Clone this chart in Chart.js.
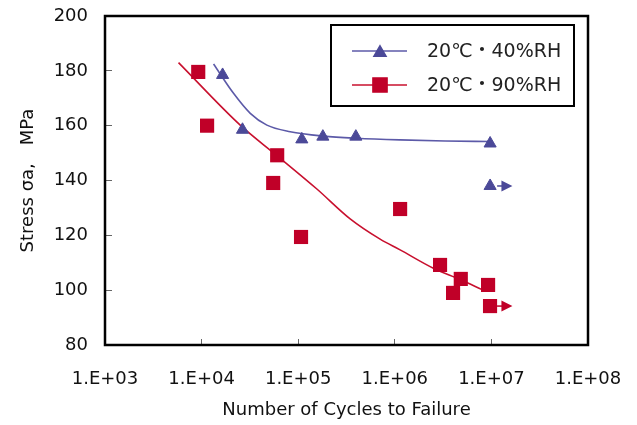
<!DOCTYPE html>
<html>
<head>
<meta charset="utf-8">
<script src="https://cdn.jsdelivr.net/npm/chart.js@4.4.0/dist/chart.umd.min.js"></script>
<style>
  html, body { margin: 0; padding: 0; background: #fff; }
  #wrap { width: 637px; height: 425px; }
</style>
</head>
<body>
<div id="wrap"><canvas id="snChart" width="637" height="425"></canvas></div>
<script>
// series names
const seriesNames = ['20℃・40%RH', '20℃・90%RH'];

// 40%RH measured points (triangles)
const triCycles = [16500, 26500, 109000, 180000, 395000, 9700000, 9700000];
const triStress = [178.5, 158.5, 155, 156, 156, 153.5, 138];

// 90%RH measured points (squares)
const sqCycles = [9230, 11400, 60600, 55100, 107000, 1135000, 2940000, 4820000, 4010000, 9240000, 9680000];
const sqStress = [179.6, 160, 149.2, 139.1, 119.4, 129.6, 109.2, 104.1, 99, 101.9, 94.2];

// fitted curves
const triFitCycles = [13300, 21400, 31900, 47400, 82600, 182600, 404600, 1135000, 3316000, 9680000];
const triFitStress = [182.5, 171.8, 164.5, 160.2, 157.8, 156.2, 155.4, 154.8, 154.4, 154.2];
const sqFitCycles = [5770, 25100, 60200, 156100, 345000, 704700, 1135000, 2509000, 4741000, 8006000];
const sqFitStress = [183, 160.2, 149.1, 136.9, 126, 118.6, 114.7, 108, 103.9, 100.2];

// run-outs (did not fail) -> arrows
const triRunoutCycles = [9700000];
const triRunoutStress = [138];
const sqRunoutCycles = [9680000];
const sqRunoutStress = [94.2];
const runoutArrowTip = 16500000;

// axes
const xTickValues = [1e3, 1e4, 1e5, 1e6, 1e7, 1e8];
const xTickLabels = ['1.E+03', '1.E+04', '1.E+05', '1.E+06', '1.E+07', '1.E+08'];
const yMin = 80, yMax = 200, yStep = 20;

const blueMark = '#4b4998';
const blueLine = '#5c5aa8';
const redMark = '#c00028';
const redLine = '#c8102e';

Chart.defaults.font.family = '"DejaVu Sans", "Noto Sans CJK KR", sans-serif';
Chart.defaults.font.size = 18;
Chart.defaults.color = '#111';

function pts(xs, ys) {
    return xs.map((x, i) => ({ x: x, y: ys[i] }));
}

// frame around plot + runout arrows
const framePlugin = {
    id: 'framePlugin',
    afterDatasetsDraw(chart) {
        const ctx = chart.ctx;
        const a = chart.chartArea;
        const xs = chart.scales.x, ys = chart.scales.y;
        ctx.save();

        function arrow(xv, yv, color) {
            const x0 = xs.getPixelForValue(xv) + 7;
            const x1 = xs.getPixelForValue(runoutArrowTip);
            const y = ys.getPixelForValue(yv);
            ctx.strokeStyle = color;
            ctx.fillStyle = color;
            ctx.lineWidth = 1.5;
            ctx.beginPath();
            ctx.moveTo(x0, y);
            ctx.lineTo(x1 - 9, y);
            ctx.stroke();
            ctx.beginPath();
            ctx.moveTo(x1, y);
            ctx.lineTo(x1 - 11, y - 5.5);
            ctx.lineTo(x1 - 11, y + 5.5);
            ctx.closePath();
            ctx.fill();
        }
        triRunoutCycles.forEach((c, i) => arrow(c, triRunoutStress[i], blueMark));
        sqRunoutCycles.forEach((c, i) => arrow(c, sqRunoutStress[i], redMark));

        ctx.strokeStyle = '#000';
        ctx.lineWidth = 2.5;
        ctx.strokeRect(a.left, a.top, a.right - a.left, a.bottom - a.top);
        ctx.restore();
    }
};

// legend box inside the plot
const legendBox = {
    id: 'legendBox',
    afterDraw(chart) {
        const ctx = chart.ctx;
        ctx.save();
        ctx.fillStyle = '#fff';
        ctx.fillRect(331, 25, 243, 81);
        ctx.strokeStyle = '#000';
        ctx.lineWidth = 2;
        ctx.strokeRect(331, 25, 243, 81);

        const rows = [
            { text: seriesNames[0], line: blueLine, mark: blueMark, style: 'triangle', r: 7, y: 51, dy: 1.75 },
            { text: seriesNames[1], line: redLine, mark: redMark, style: 'rect', r: 10, y: 85, dy: 0 }
        ];
        rows.forEach(row => {
            ctx.strokeStyle = row.line;
            ctx.lineWidth = 1.5;
            ctx.beginPath();
            ctx.moveTo(352, row.y);
            ctx.lineTo(407, row.y);
            ctx.stroke();
            ctx.fillStyle = row.mark;
            ctx.strokeStyle = row.mark;
            Chart.helpers.drawPoint(ctx, { pointStyle: row.style, radius: row.r, rotation: 0, borderWidth: 1 }, 380, row.y + row.dy);
            ctx.fillStyle = '#222';
            ctx.font = '19px "DejaVu Sans", "Noto Sans CJK KR", sans-serif';
            ctx.textBaseline = 'middle';
            ctx.textAlign = 'left';
            ctx.fillText(row.text, 427, row.y + 1);
        });
        ctx.restore();
    }
};

new Chart(document.getElementById('snChart').getContext('2d'), {
    type: 'scatter',
    data: {
        datasets: [
            {
                label: seriesNames[0],
                data: pts(triCycles, triStress),
                pointStyle: 'triangle',
                pointRadius: 7,
                pointBackgroundColor: blueMark,
                pointBorderColor: blueMark,
                pointBorderWidth: 1,
                showLine: false
            },
            {
                label: seriesNames[1],
                data: pts(sqCycles, sqStress),
                pointStyle: 'rect',
                pointRadius: 10,
                pointBackgroundColor: redMark,
                pointBorderColor: redMark,
                pointBorderWidth: 0,
                showLine: false
            },
            {
                label: 'fit 40',
                data: pts(triFitCycles, triFitStress),
                showLine: true,
                borderColor: blueLine,
                borderWidth: 1.6,
                pointRadius: 0,
                cubicInterpolationMode: 'monotone',
                fill: false
            },
            {
                label: 'fit 90',
                data: pts(sqFitCycles, sqFitStress),
                showLine: true,
                borderColor: redLine,
                borderWidth: 1.6,
                pointRadius: 0,
                cubicInterpolationMode: 'monotone',
                fill: false
            }
        ]
    },
    options: {
        responsive: false,
        animation: false,
        events: [],
        layout: { padding: { top: 16, right: 49, left: 0, bottom: 0 } },
        plugins: {
            legend: { display: false },
            tooltip: { enabled: false }
        },
        scales: {
            x: {
                type: 'logarithmic',
                min: xTickValues[0],
                max: xTickValues[xTickValues.length - 1],
                afterBuildTicks: s => { s.ticks = xTickValues.map(v => ({ value: v })); },
                afterFit: s => { s.height = 80; s.paddingLeft = 0; s.paddingRight = 0; },
                border: { display: false },
                grid: { display: true, drawOnChartArea: false, drawTicks: true, tickLength: -6, color: '#666', lineWidth: 1 },
                ticks: {
                    autoSkip: false,
                    maxRotation: 0,
                    padding: 30,
                    callback: (v, i) => xTickLabels[i]
                },
                title: {
                    display: true,
                    text: 'Number of Cycles to Failure',
                    padding: { top: 0, bottom: 3.5 }
                }
            },
            y: {
                min: yMin,
                max: yMax,
                afterFit: s => { s.width = 105; s.paddingTop = 0; s.paddingBottom = 0; },
                border: { display: false },
                grid: { display: true, drawOnChartArea: false, drawTicks: true, tickLength: -7, color: '#666', lineWidth: 1 },
                ticks: { stepSize: yStep, padding: 24 },
                title: {
                    display: true,
                    text: 'Stress σa,\u3000MPa',
                    font: { size: 18 },
                    padding: { top: 18, bottom: 0 }
                }
            }
        }
    },
    plugins: [framePlugin, legendBox]
});
</script>
</body>
</html>
